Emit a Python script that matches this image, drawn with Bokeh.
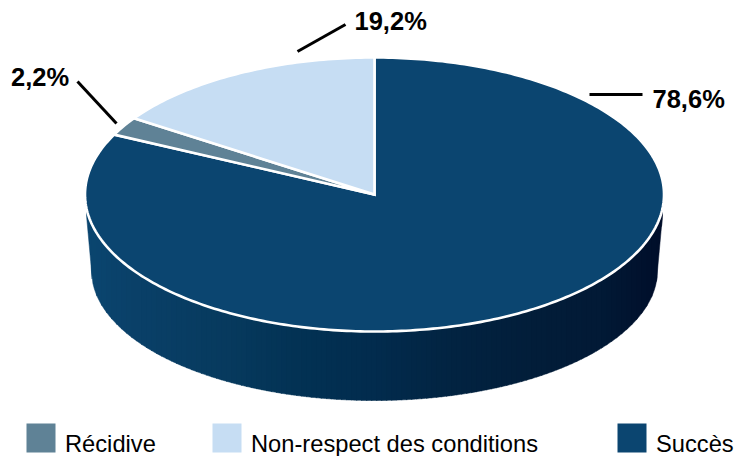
import numpy as np
from bokeh.embed import file_html
from bokeh.models import Range1d
from bokeh.plotting import figure
from bokeh.resources import INLINE

# slices as drawn, clockwise from 12 o'clock
categories = ["Succès", "Récidive", "Non-respect des conditions"]
drawn_shares = [82.2, 2.2, 15.6]
slice_colors = ["#0B4570", "#5F8296", "#C6DDF3"]
value_labels = ["78,6%", "2,2%", "19,2%"]
legend_order = ["Récidive", "Non-respect des conditions", "Succès"]

WALL_STOPS_X = [86, 140, 230, 300, 374, 450, 530, 600, 640, 662]
WALL_STOPS_RGB = [(11, 70, 112), (10, 64, 104), (7, 58, 94), (3, 50, 84), (2, 44, 78),
                  (2, 36, 66), (2, 30, 58), (2, 26, 54), (1, 18, 46), (0, 14, 42)]

CX, CY, RX, RY = 374, 194, 289.5, 137
BX, BY, BRX, BRY = 374, 270, 283, 130
EDGE_TOP_Y = 215

p = figure(width=734, height=456, output_backend="svg", toolbar_location=None,
           x_range=Range1d(0, 734), y_range=Range1d(456, 0), min_border=0)
p.axis.visible = False
p.grid.visible = False
p.outline_line_color = None
p.background_fill_color = "white"

# wall: vertical strips between the two ellipses, with slanted outer edges
edges = np.arange(86.0, 662.5, 5.0)
edges = np.r_[edges, 662.0]
for a, b in zip(edges[:-1], edges[1:]):
    xs = np.linspace(a, min(b + 0.6, 662), 5)
    top = CY + RY * np.sqrt(np.clip(1 - ((xs - CX) / RX) ** 2, 0, 1))
    inner = np.clip(1 - ((xs - BX) / BRX) ** 2, 0, 1)
    bot = BY + BRY * np.sqrt(inner)
    dist = np.abs(xs - BX)
    outside = dist >= BRX
    bot[outside] = BY + (EDGE_TOP_Y - BY) * (dist[outside] - BRX) / (288 - BRX)
    mid = (a + b) / 2
    rgb = [int(np.interp(mid, WALL_STOPS_X, [c[i] for c in WALL_STOPS_RGB])) for i in range(3)]
    col = "#%02x%02x%02x" % tuple(rgb)
    p.patch(np.r_[xs, xs[::-1]], np.r_[top, bot[::-1]], fill_color=col, line_color=col, line_width=0.5)

# top face
total = sum(drawn_shares)
start = 0.0
for share, col in zip(drawn_shares, slice_colors):
    stop = start + share / total * 2 * np.pi
    t = np.linspace(start, stop, max(8, int(share * 4)))
    xs = np.r_[CX, CX + RX * np.sin(t)]
    ys = np.r_[CY, CY - RY * np.cos(t)]
    p.patch(xs, ys, fill_color=col, line_color="white", line_width=2.6, line_join="miter")
    start = stop

# leader lines
p.line([589, 642], [94, 94], line_color="black", line_width=3)
p.line([77, 116], [81, 123], line_color="black", line_width=3)
p.line([297, 345], [51, 24], line_color="black", line_width=3)

# value labels
p.text([652, 10.5, 354], [98, 76, 20.5], text=value_labels, text_font_size="25.5px",
       text_font={"value": "Liberation Sans"}, text_font_style="bold", text_color="black",
       text_baseline="middle", text_align="left")

# legend
p.quad(left=[26, 212, 617], right=[55, 241, 646], top=[423] * 3, bottom=[452] * 3,
       fill_color=[slice_colors[categories.index(c)] for c in legend_order], line_color=None)
p.text([64.5, 250.5, 655.5], [443.5, 443.5, 443.5], text=legend_order, text_font_size="23.7px",
       text_font={"value": "Liberation Sans"}, text_color="black",
       text_baseline="middle", text_align="left")

open("out.html", "w").write(file_html(p, INLINE))
